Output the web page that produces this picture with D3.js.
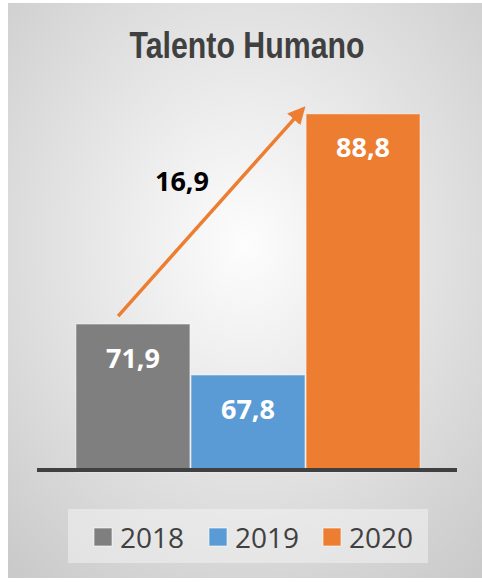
<!DOCTYPE html>
<html>
<head>
<meta charset="utf-8">
<script src="https://cdn.jsdelivr.net/npm/d3@7"></script>
<style>
  body { margin: 0; background: #ffffff; }
  svg { display: block; }
</style>
</head>
<body>
<div id="chart"></div>
<script>
// Data
const years = ["2018", "2019", "2020"];
const values = [71.9, 67.8, 88.8];
const colors = ["#7f7f7f", "#5b9bd5", "#ed7d31"];
const chartTitle = "Talento Humano";

const W = 482, H = 582;

const svg = d3.select("#chart").append("svg")
  .attr("width", W)
  .attr("height", H);

// Background with radial gradient
const defs = svg.append("defs");
const grad = defs.append("radialGradient")
  .attr("id", "bg")
  .attr("cx", "50%").attr("cy", "42%").attr("r", "75%");
grad.append("stop").attr("offset", "0%").attr("stop-color", "#fdfdfd");
grad.append("stop").attr("offset", "100%").attr("stop-color", "#cacaca");

svg.append("rect")
  .attr("x", 8).attr("y", 3)
  .attr("width", W - 8).attr("height", 575)
  .attr("fill", "url(#bg)");

// Title (narrow bold, squeezed to match width)
svg.append("text")
  .attr("x", 247)
  .attr("y", 58)
  .attr("text-anchor", "middle")
  .attr("textLength", 235)
  .attr("lengthAdjust", "spacingAndGlyphs")
  .style("font-family", "'Liberation Sans', Arial, sans-serif")
  .style("font-weight", "bold")
  .style("font-size", "36px")
  .style("fill", "#404040")
  .text(chartTitle);

// Scales
const x = d3.scaleBand()
  .domain(years)
  .range([76, 420])
  .paddingInner(0.01);

const y = d3.scaleLinear()
  .domain([60, 90])
  .range([472, 99]);

const data = years.map((yr, i) => ({ year: yr, value: values[i], color: colors[i] }));

// Bars
svg.selectAll(".bar")
  .data(data)
  .enter().append("rect")
  .attr("class", "bar")
  .attr("x", d => x(d.year))
  .attr("y", d => y(d.value))
  .attr("width", x.bandwidth())
  .attr("height", d => y(60) - y(d.value))
  .attr("fill", d => d.color)
  .attr("stroke", "rgba(255,255,255,0.45)")
  .attr("stroke-width", 1);

// Bar labels
svg.selectAll(".bar-label")
  .data(data)
  .enter().append("text")
  .attr("class", "bar-label")
  .attr("x", d => x(d.year) + x.bandwidth() / 2)
  .attr("y", d => y(d.value) + 33)
  .attr("text-anchor", "middle")
  .attr("dominant-baseline", "central")
  .style("font-family", "'Open Sans', sans-serif")
  .style("font-weight", "bold")
  .style("font-size", "27px")
  .style("fill", "#ffffff")
  .text(d => d3.format(".1f")(d.value).replace(".", ","));

// Baseline axis
const xAxis = d3.axisBottom(x).tickSize(0).tickFormat("");
const axisG = svg.append("g")
  .attr("transform", `translate(0,${y(60) - 2})`)
  .call(xAxis);
axisG.select(".domain")
  .attr("d", "M37,0H457")
  .attr("stroke", "#404040")
  .attr("stroke-width", 4);

// Growth arrow
defs.append("marker")
  .attr("id", "arrowhead")
  .attr("viewBox", "0 0 10 10")
  .attr("refX", 8).attr("refY", 5)
  .attr("markerWidth", 5).attr("markerHeight", 5)
  .attr("markerUnits", "strokeWidth")
  .attr("orient", "auto")
  .append("path")
  .attr("d", "M0,0L10,5L0,10Z")
  .attr("fill", "#ed7d31");

const x0 = x("2018") + x.bandwidth() * 0.37, y0 = y(values[0]) - 8;
const x1 = x("2020") - 3, y1 = y(values[2]) - 5;
svg.append("line")
  .attr("x1", x0).attr("y1", y0)
  .attr("x2", x1).attr("y2", y1)
  .attr("stroke", "#ed7d31")
  .attr("stroke-width", 3.5)
  .attr("marker-end", "url(#arrowhead)");

const diff = values[2] - values[0];
svg.append("text")
  .attr("x", 182)
  .attr("y", 180)
  .attr("text-anchor", "middle")
  .attr("dominant-baseline", "central")
  .style("font-family", "'Open Sans', sans-serif")
  .style("font-weight", "bold")
  .style("font-size", "27px")
  .style("fill", "#000000")
  .text(d3.format(".1f")(diff).replace(".", ","));

// Legend
svg.append("rect")
  .attr("x", 68).attr("y", 509)
  .attr("width", 360).attr("height", 54)
  .attr("fill", "#f2f2f2")
  .attr("fill-opacity", 0.55);

const legendX = [94, 209, 323];
const legend = svg.selectAll(".legend-item")
  .data(data)
  .enter().append("g")
  .attr("class", "legend-item")
  .attr("transform", (d, i) => `translate(${legendX[i]},528)`);

legend.append("rect")
  .attr("width", 18).attr("height", 18)
  .attr("fill", d => d.color)
  .attr("stroke", "rgba(255,255,255,0.6)")
  .attr("stroke-width", 1);

legend.append("text")
  .attr("x", 26)
  .attr("y", 9)
  .attr("dominant-baseline", "central")
  .style("font-family", "'Open Sans', sans-serif")
  .style("font-size", "28px")
  .style("fill", "#404040")
  .text(d => d.year);
</script>
</body>
</html>
